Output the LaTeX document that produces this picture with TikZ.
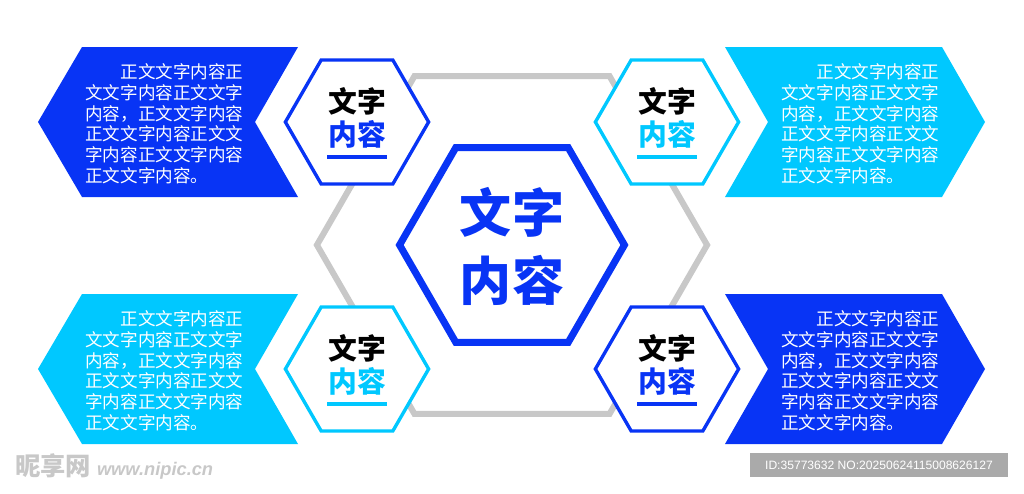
\documentclass[tikz,border=0pt]{standalone}
\usepackage{fontspec}
\setmainfont{Noto Sans CJK SC}
\setsansfont{Liberation Sans}
\usetikzlibrary{shapes.geometric}

\definecolor{deepblue}{RGB}{8,52,245}
\definecolor{skyblue}{RGB}{0,200,255}
\definecolor{framegray}{RGB}{200,200,200}
\definecolor{markgray}{RGB}{170,170,170}

\begin{document}
\begin{tikzpicture}[x=0.025cm, y=-0.025cm,
    hexframe/.style={draw, fill=white, regular polygon, regular polygon sides=6, inner sep=0pt, minimum size=3.58cm, line width=2.4pt},
    bannertext/.style={anchor=north west, inner sep=0pt, align=left, text=white, font=\fontsize{12.5}{14.7}\selectfont},
    smalltitle/.style={inner sep=0pt, font=\fontsize{20.5}{24}\selectfont\bfseries},
    bigtitle/.style={inner sep=0pt, text=deepblue, font=\fontsize{37}{44}\selectfont\bfseries}]

    % Fix the page size to the picture
    \useasboundingbox (0,0) rectangle (1024,493);

    % Grey hexagon behind everything
    \node[draw=framegray, regular polygon, regular polygon sides=6, inner sep=0pt, minimum size=9.75cm, line width=4.3pt] (frame) at (512,245) {};

    % Banner a (top left), points to the left
    \fill[deepblue] (82,47) -- (298,47) -- (255,122) -- (298,197) -- (82,197) -- (38,122) -- cycle;
    \node[bannertext] (text_a) at (85,63.5) {\hspace*{2em}正文文字内容正\\文文字内容正文文字\\内容，正文文字内容\\正文文字内容正文文\\字内容正文文字内容\\正文文字内容。};

    % Banner b (top right), points to the right
    \fill[skyblue] (725,47) -- (942,47) -- (985,122) -- (942,197) -- (725,197) -- (768,122) -- cycle;
    \node[bannertext] (text_b) at (781,63.5) {\hspace*{2em}正文文字内容正\\文文字内容正文文字\\内容，正文文字内容\\正文文字内容正文文\\字内容正文文字内容\\正文文字内容。};

    % Banner c (bottom left), points to the left
    \fill[skyblue] (82,294) -- (298,294) -- (255,369) -- (298,444) -- (82,444) -- (38,369) -- cycle;
    \node[bannertext] (text_c) at (85,310.5) {\hspace*{2em}正文文字内容正\\文文字内容正文文字\\内容，正文文字内容\\正文文字内容正文文\\字内容正文文字内容\\正文文字内容。};

    % Banner d (bottom right), points to the right
    \fill[deepblue] (725,294) -- (942,294) -- (985,369) -- (942,444) -- (725,444) -- (768,369) -- cycle;
    \node[bannertext] (text_d) at (781,310.5) {\hspace*{2em}正文文字内容正\\文文字内容正文文字\\内容，正文文字内容\\正文文字内容正文文\\字内容正文文字内容\\正文文字内容。};

    % Small hexagon a
    \node[hexframe, draw=deepblue] (hex_a) at (357,122) {};
    \node[smalltitle] (hex_a_top) at (357,101) {文字};
    \node[smalltitle, text=deepblue] (hex_a_bot) at (357,134) {内容};
    \draw[deepblue, line width=3.3pt] (327,157) -- (387,157);

    % Small hexagon b
    \node[hexframe, draw=skyblue] (hex_b) at (667,122) {};
    \node[smalltitle] (hex_b_top) at (667,101) {文字};
    \node[smalltitle, text=skyblue] (hex_b_bot) at (667,134) {内容};
    \draw[skyblue, line width=3.3pt] (637,157) -- (697,157);

    % Small hexagon c
    \node[hexframe, draw=skyblue] (hex_c) at (357,369) {};
    \node[smalltitle] (hex_c_top) at (357,348) {文字};
    \node[smalltitle, text=skyblue] (hex_c_bot) at (357,381) {内容};
    \draw[skyblue, line width=3.3pt] (327,404) -- (387,404);

    % Small hexagon d
    \node[hexframe, draw=deepblue] (hex_d) at (667,369) {};
    \node[smalltitle] (hex_d_top) at (667,348) {文字};
    \node[smalltitle, text=deepblue] (hex_d_bot) at (667,381) {内容};
    \draw[deepblue, line width=3.3pt] (637,404) -- (697,404);

    % Big hexagon in the middle
    \node[hexframe, draw=deepblue, minimum size=5.62cm, line width=5pt] (hex_main) at (512,245) {};
    \node[bigtitle] (main_top) at (512,212) {文字};
    \node[bigtitle] (main_bot) at (512,280) {内容};

    % Watermarks
    \node[anchor=west, inner sep=0pt, text=framegray, font=\fontsize{18}{20}\selectfont\bfseries] (mark_logo) at (15,466) {昵享网 \sffamily\itshape\fontsize{13}{15}\selectfont www.nipic.cn};
    \node[fill=markgray, text=white, minimum width=6.45cm, minimum height=0.6cm, inner sep=0pt, font=\sffamily\fontsize{8.6}{10}\selectfont] (mark_id) at (879,465) {ID:35773632 NO:20250624115008626127};

\end{tikzpicture}
\end{document}
